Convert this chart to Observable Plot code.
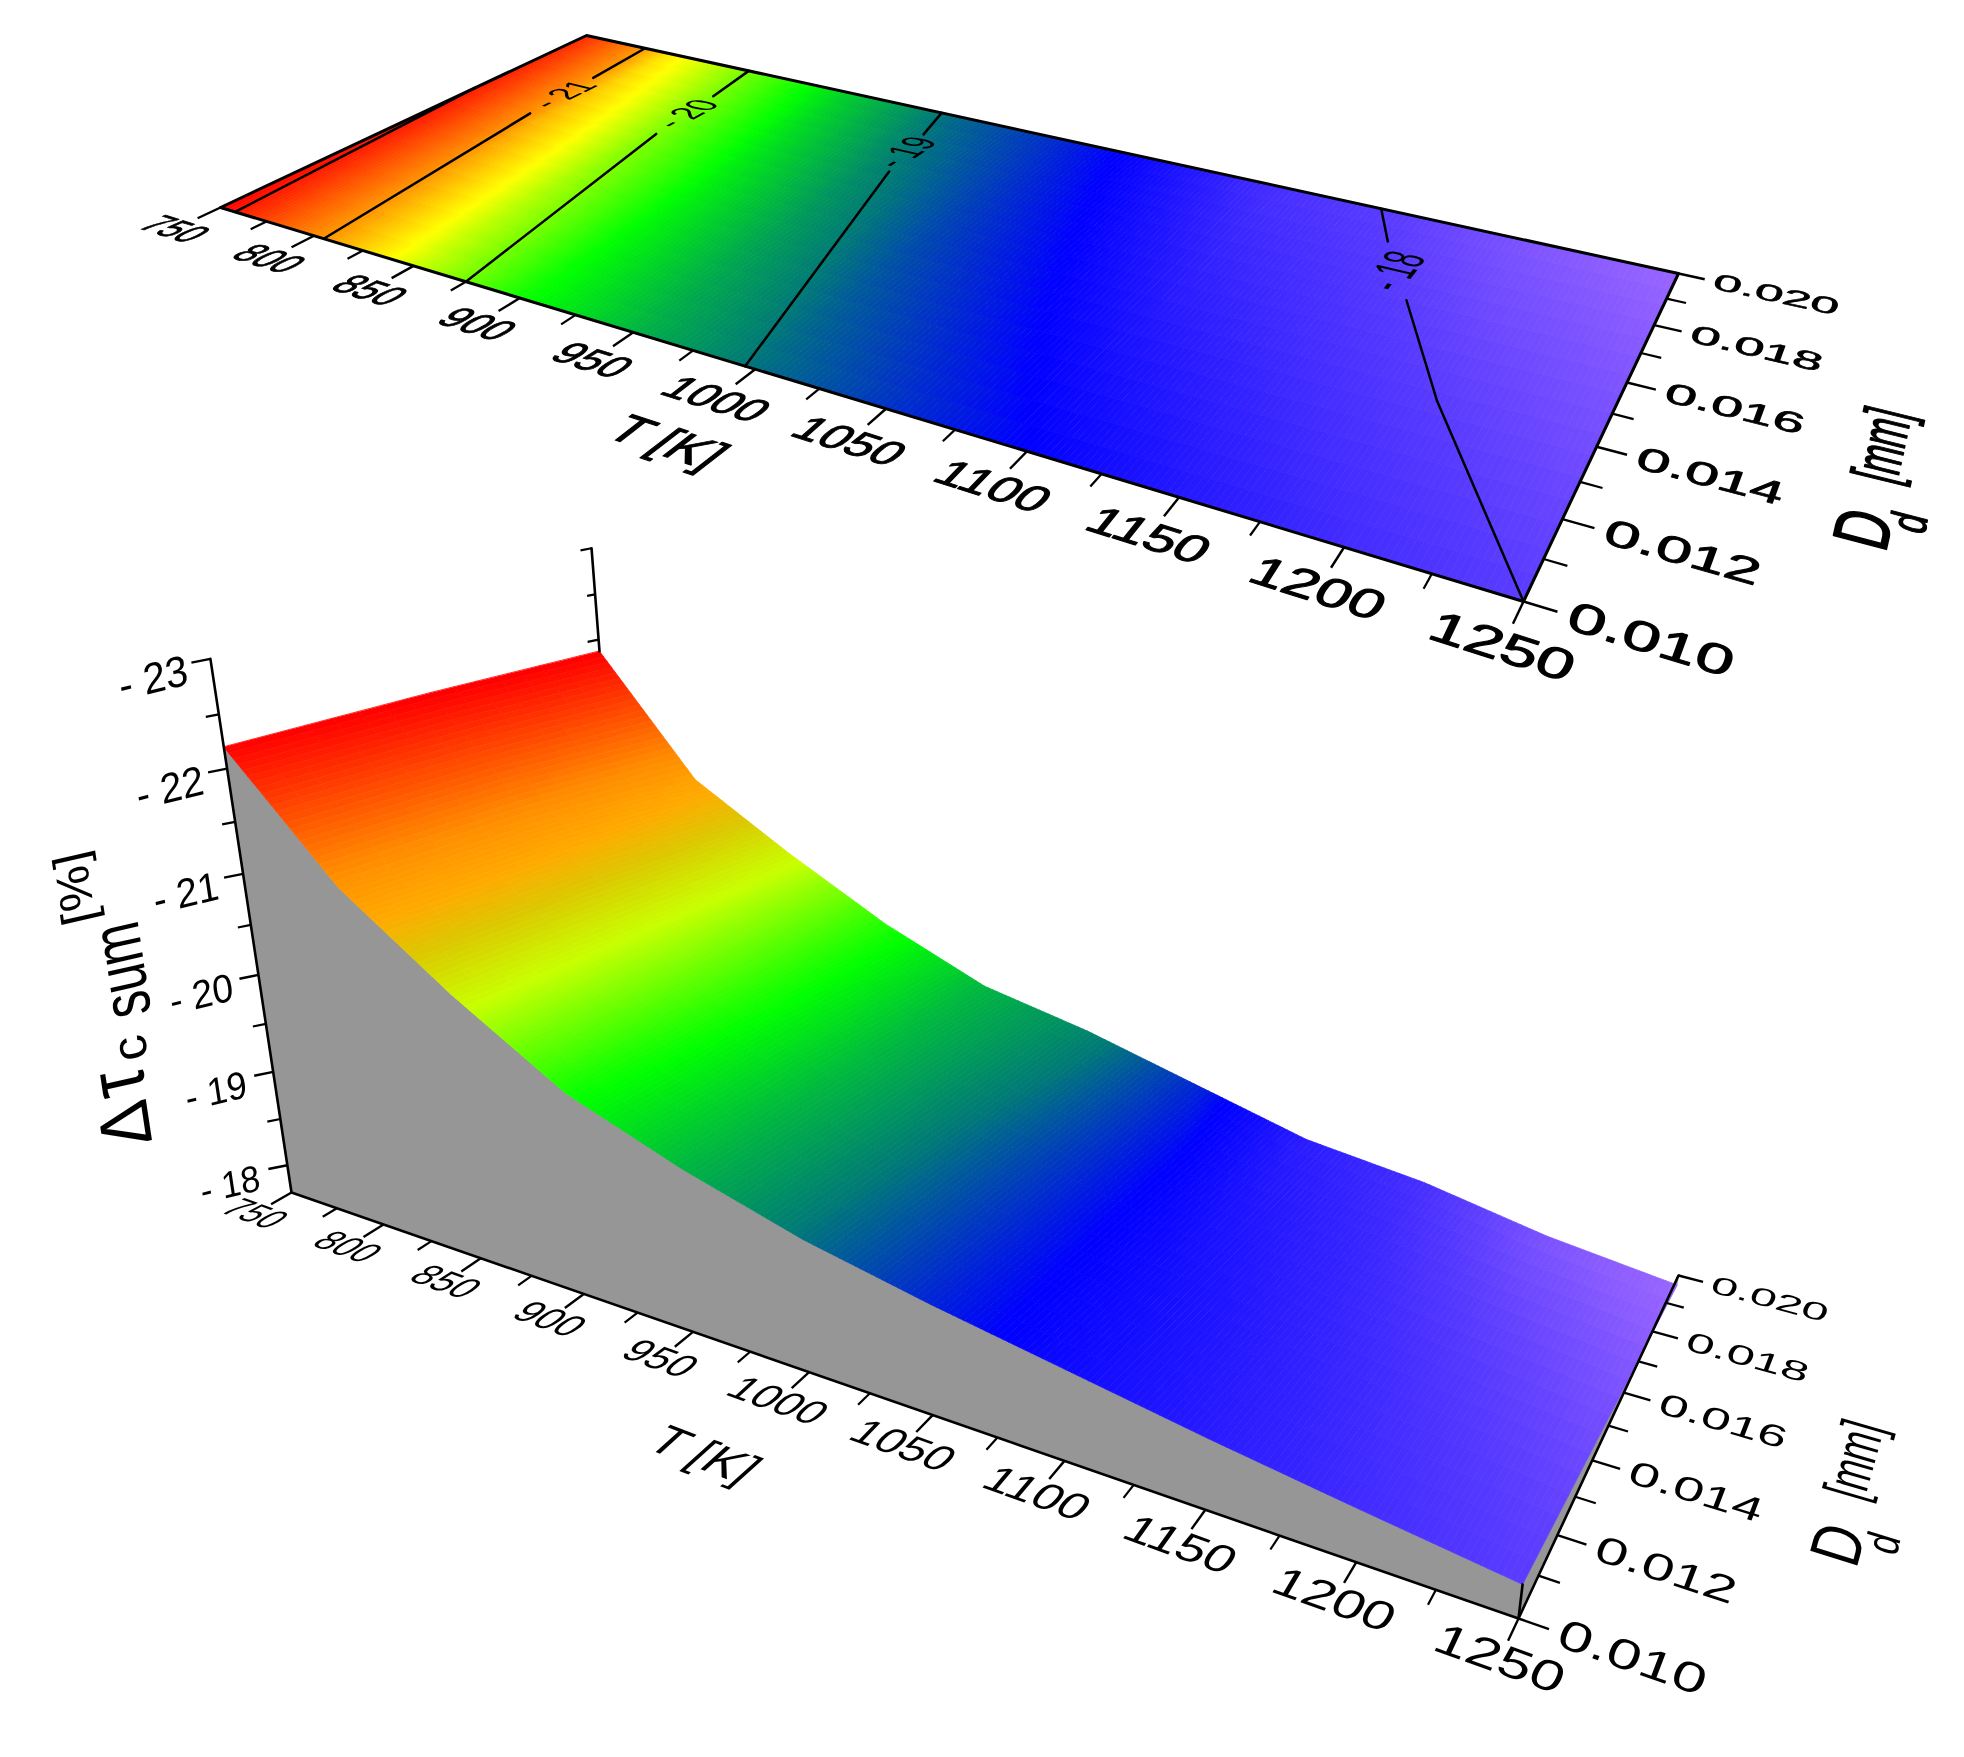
<!DOCTYPE html>
<html>
<head>
<meta charset="utf-8">
<style>
html,body{margin:0;padding:0;background:#fff}
#chart{position:relative;width:1964px;height:1757px;overflow:hidden}
#chart svg{position:absolute;left:0;top:0;background:transparent;max-width:none;filter:blur(0.6px)}
</style>
<script src="https://cdn.jsdelivr.net/npm/d3@7"></script>
<script src="https://cdn.jsdelivr.net/npm/@observablehq/plot@0.6"></script>
</head>
<body>
<div id="chart"></div>
<script>
// ---- values ----
const temperatures = [750, 800, 850, 900, 950, 1000, 1050, 1100, 1150, 1200, 1250];
const diameters = [0.010, 0.015, 0.020];
const tauAtD010 = [-22.2, -21.1, -20.35, -19.7, -19.3, -18.98, -18.75, -18.55, -18.35, -18.17, -18.0];
const tauAtD015 = [-22.05, -20.9, -20.15, -19.6, -19.15, -18.82, -18.58, -18.32, -18.15, -17.97, -17.8];
const tauAtD020 = [-21.87, -20.6, -19.97, -19.4, -18.95, -18.72, -18.42, -18.12, -17.98, -17.75, -17.6];

const tMajor = [750, 800, 850, 900, 950, 1000, 1050, 1100, 1150, 1200, 1250];
const tMinor = [775, 825, 875, 925, 975, 1025, 1075, 1125, 1175, 1225];
const dMajor = [0.010, 0.012, 0.014, 0.016, 0.018, 0.020];
const dMinor = [0.011, 0.013, 0.015, 0.017, 0.019];
const zMajor = [-23, -22, -21, -20, -19, -18];
const zMinor = [-22.5, -21.5, -20.5, -19.5, -18.5];

const contour22 = [[758, 0.010], [750, 0.0165]];
const contour21a = [[805, 0.010], [791, 0.016]];
const contour21b = [[788, 0.0181], [785, 0.020]];
const contour20a = [[875, 0.010], [852, 0.0164]];
const contour20b = [[848, 0.0185], [844, 0.020]];
const contour19a = [[996, 0.010], [957, 0.0171]];
const contour19b = [[950, 0.0189], [945, 0.020]];
const contour18a = [[1250, 0.010], [1200, 0.0141], [1171, 0.0169]];
const contour18b = [[1151, 0.0188], [1140, 0.020]];
const contourLabels = [
  {text: "- 21", T: 789.5, D: 0.0171},
  {text: "- 20", T: 850, D: 0.0175},
  {text: "- 19", T: 953, D: 0.0180},
  {text: "- 18", T: 1161, D: 0.0178}
];

// colour ramps
const topDomain = [-22.2, -21, -20.5, -19.65, -19, -18.55, -18.2, -18, -17.6];
const topRange = ["#ff0000", "#ff9600", "#ffff00", "#00ff00", "#007878", "#0000ff", "#3c28ff", "#5a3cff", "#9966ff"];
const lowDomain = [-22.2, -21.2, -20.85, -20.6, -20.25, -19.65, -19, -18.65, -18.2, -18, -17.6];
const lowRange = ["#ff0000", "#ff8c00", "#ffaa00", "#dcc800", "#c8ff00", "#00ff00", "#007878", "#0000ff", "#3c28ff", "#5a3cff", "#9966ff"];

// ---- views: corners of the base plane on the page ----
function view(P00, P10, P01, P11, extra = {}) {
  const a1 = P11[0] - P10[0], b1 = P11[0] - P01[0], c1 = P10[0] + P01[0] - P00[0] - P11[0];
  const a2 = P11[1] - P10[1], b2 = P11[1] - P01[1], c2 = P10[1] + P01[1] - P00[1] - P11[1];
  const det = a1 * b2 - b1 * a2;
  const g = (c1 * b2 - b1 * c2) / det, h = (a1 * c2 - c1 * a2) / det;
  return {P00, g, h,
    A: [P10[0] * (1 + g) - P00[0], P10[1] * (1 + g) - P00[1]],
    B: [P01[0] * (1 + h) - P00[0], P01[1] * (1 + h) - P00[1]],
    ...extra};
}
const topView = view([220, 207], [1523, 601], [586, 35], [1678, 273]);
const lowView = view([291, 1192], [1518, 1618], [626, 999], [1678, 1275],
  {zBase: -17.7, zTop: -23, vp: [1005, 5890], k: -0.102});

function project(p, T, D, z) {
  const u = (T - 750) / 500, v = (D - 0.01) / 0.01;
  let w = 1 + p.g * u + p.h * v;
  let X = p.P00[0] + p.A[0] * u + p.B[0] * v;
  let Y = p.P00[1] + p.A[1] * u + p.B[1] * v;
  if (z != null) {
    const s = p.k * (z - p.zBase) / (p.zTop - p.zBase);
    X += s * p.vp[0]; Y += s * p.vp[1]; w += s;
  }
  return [X / w, Y / w];
}

function tauAt(T, D) {
  const i = Math.min(temperatures.length - 2, Math.max(0, d3.bisectRight(temperatures, T) - 1));
  const j = D < diameters[1] ? 0 : 1;
  const rows = [tauAtD010, tauAtD015, tauAtD020];
  const fu = (T - temperatures[i]) / (temperatures[i + 1] - temperatures[i]);
  const fv = (D - diameters[j]) / (diameters[j + 1] - diameters[j]);
  const a = rows[j][i] + (rows[j][i + 1] - rows[j][i]) * fu;
  const b = rows[j + 1][i] + (rows[j + 1][i + 1] - rows[j + 1][i]) * fu;
  return a + (b - a) * fv;
}

// the lower surface is lit, so its colour bands lie flatter across D
function litValue(tau, D) {
  const v = (D - 0.01) / 0.01;
  const fade = Math.max(0, Math.min(1, (-17.7 - tau) / 0.7));
  return tau - 0.35 * v * fade;
}

// surface cells: a quad per sub-cell, coloured at its centre
function surfaceCells(p, lifted) {
  const out = [];
  const nT = 24, nD = 16;
  let id = 0;
  for (let i = 0; i < temperatures.length - 1; i++) {
    for (let a = 0; a < nT; a++) {
      const T0 = temperatures[i] + 50 * a / nT, T1 = temperatures[i] + 50 * (a + 1) / nT;
      for (let b = 0; b < nD; b++) {
        const D0 = 0.01 + 0.01 * b / nD, D1 = 0.01 + 0.01 * (b + 1) / nD;
        const mid = tauAt((T0 + T1) / 2, (D0 + D1) / 2);
        const tau = lifted ? litValue(mid, (D0 + D1) / 2) : mid;
        id++;
        for (const [T, D] of [[T0, D0], [T1, D0], [T1, D1], [T0, D1]]) {
          const xy = project(p, T, D, lifted ? tauAt(T, D) : null);
          out.push({id, tau, x: xy[0], y: xy[1]});
        }
      }
    }
  }
  return out;
}

// text lying in the plane of the picture's perspective
const FONT = 20, family = "Liberation Sans, Arial, sans-serif";
function planeMatrix(p, r) {
  const [x, y] = project(p, r.T, r.D);
  const t0 = project(p, r.T - r.emT / 2, r.D), t1 = project(p, r.T + r.emT / 2, r.D);
  const d0 = project(p, r.T, r.D - r.emD / 2), d1 = project(p, r.T, r.D + r.emD / 2);
  const tv = [(t1[0] - t0[0]) / FONT, (t1[1] - t0[1]) / FONT];
  const dv = [(d1[0] - d0[0]) / FONT, (d1[1] - d0[1]) / FONT];
  return r.along === "D"
    ? [dv[0], dv[1], tv[0], tv[1], x, y]
    : [tv[0], tv[1], -dv[0], -dv[1], x, y];
}
function matrixText(rows, matrixOf, extra = {}) {
  return Plot.text(rows, {
    x: r => matrixOf(r)[4], y: r => matrixOf(r)[5], text: "text",
    fontSize: FONT, fontFamily: family, fill: "black", textAnchor: "middle", lineAnchor: "middle",
    ...extra,
    render(index, scales, values, dims, ctx, next) {
      const g = next(index, scales, values, dims, ctx);
      d3.select(g).selectAll("text").each(function (_, i) {
        this.setAttribute("transform", `matrix(${matrixOf(rows[index[i]]).join(" ")})`);
      });
      return g;
    }
  });
}

function axisMarks(p, baseTau, labelD, textStyle) {
  const at = (T, D) => project(p, T, D, baseTau);
  const tTick = (list, len) => list.map(T => ({a: at(T, 0.010), b: at(T, 0.010 - len)}));
  const dTick = (list, len) => list.map(D => ({a: at(1250, D), b: at(1250 + len, D)}));
  const link = (rows, w) => Plot.link(rows, {
    x1: r => r.a[0], y1: r => r.a[1], x2: r => r.b[0], y2: r => r.b[1], stroke: "black", strokeWidth: w});
  const plane = r => planeMatrix(p, r);
  const tLabels = tMajor.map(T => ({text: String(T), T, D: labelD, emT: 16.5, emD: 0.00085}));
  const dLabels = dMajor.map(D => ({text: D.toFixed(3), T: 1283, D, emT: 16.5, emD: 0.00085}));
  return [
    link(tTick(tMajor, 0.0005), 2.4), link(tTick(tMinor, 0.00035), 2.2),
    link(dTick(dMajor, 9), 2.4), link(dTick(dMinor, 6.5), 2.2),
    matrixText(tLabels, plane, textStyle), matrixText(dLabels, plane, textStyle)
  ];
}
function titleMarks(p, tT, tD, dT, dD, subT, subD, mmT, mmD, textStyle) {
  const plane = r => planeMatrix(p, r);
  return [
    matrixText([{text: "T [K]", T: tT, D: tD, emT: 18.6, emD: 0.00095}], plane, textStyle),
    matrixText([{text: "D", T: dT, D: dD, along: "D", emT: 20, emD: 0.00125},
                {text: "d", T: subT, D: subD, along: "D", emT: 13, emD: 0.00085},
                {text: "[mm]", T: mmT, D: mmD, along: "D", emT: 18, emD: 0.00095}], plane, textStyle)
  ];
}

// ---- top panel: the flat map with contours ----
function edge(p, points, w, z) {
  return Plot.line(points.map(([T, D, tau]) => project(p, T, D, z != null ? z : tau)), {
    x: d => d[0], y: d => d[1], stroke: "black", strokeWidth: w, curve: "linear"});
}
const heavy = {stroke: "black", strokeWidth: 0.5};
const cellsTop = surfaceCells(topView, false);
const plotTop = Plot.plot({
  width: 1964, height: 1757, margin: 0,
  x: {type: "identity", axis: null}, y: {type: "identity", axis: null},
  color: {type: "linear", domain: topDomain, range: topRange, interpolate: "rgb", clamp: true},
  style: {background: "transparent"},
  marks: [
    Plot.line(cellsTop, {x: "x", y: "y", z: "id", fill: "tau", stroke: "tau", strokeWidth: 0.8, curve: "linear-closed"}),
    ...[contour22, contour21a, contour21b, contour20a, contour20b, contour19a, contour19b, contour18a, contour18b]
      .map(c => edge(topView, c, 2.5)),
    edge(topView, [[750, 0.01], [1250, 0.01], [1250, 0.02], [750, 0.02], [750, 0.01]], 3),
    matrixText(contourLabels.map(c => ({...c, along: "D", emT: 20, emD: 0.00085})), r => planeMatrix(topView, r)),
    ...axisMarks(topView, null, 0.0090, heavy),
    ...titleMarks(topView, 1002, 0.00773, 1326, 0.0137, 1337, 0.01415, 1326, 0.0160, heavy)
  ]
});

// ---- lower panel: the lifted surface ----
const cellsLow = surfaceCells(lowView, true);
const base = lowView.zBase;
const frontWall = [
  ...temperatures.map((T, i) => project(lowView, T, 0.010, tauAtD010[i])),
  project(lowView, 1250, 0.010, base), project(lowView, 750, 0.010, base)
];
const rightWall = [
  ...diameters.map((D, j) => project(lowView, 1250, D, [tauAtD010, tauAtD015, tauAtD020][j][10])),
  project(lowView, 1250, 0.020, base), project(lowView, 1250, 0.010, base)
];
const zAxisFront = z => project(lowView, 750, 0.010, z);
const zAxisBack = z => project(lowView, 750, 0.020, z);
const zTick = (xy, len) => ({a: xy, b: [xy[0] - len, xy[1] + len * 0.2]});
const zLink = (rows, w) => Plot.link(rows, {
  x1: r => r.a[0], y1: r => r.a[1], x2: r => r.b[0], y2: r => r.b[1], stroke: "black", strokeWidth: w});
const zLabelRows = zMajor.map(z => ({z, text: "- " + Math.abs(z)}));
const zLabelMatrix = r => {
  const [x, y] = zAxisFront(r.z);
  const em = 35 + 6 * (r.z - base) / (lowView.zTop - base);
  const bx = 0.97 * em / FONT, by = -0.24 * em / FONT, ux = -0.15 * em * 1.05 / FONT, uy = -0.99 * em * 1.05 / FONT;
  return [bx, by, -ux, -uy, x - 57, y + 20];
};
const titleParts = [
  {text: "Δ", x: 126, y: 1124, along: 68, up: 72},
  {text: "τ", x: 118, y: 1083, along: 66, up: 82},
  {text: "c", x: 130, y: 1048, along: 50, up: 50},
  {text: "sum", x: 122, y: 970, along: 50, up: 70},
  {text: "[%]", x: 75, y: 888, along: 50, up: 48}
];
const titleMatrix = r => {
  const bx = -0.15, by = -0.99, ux = -0.97, uy = 0.22;
  return [bx * r.along / FONT, by * r.along / FONT, -ux * r.up / FONT, -uy * r.up / FONT, r.x, r.y];
};
const plotLow = Plot.plot({
  width: 1964, height: 1757, margin: 0,
  x: {type: "identity", axis: null}, y: {type: "identity", axis: null},
  color: {type: "linear", domain: lowDomain, range: lowRange, interpolate: "rgb", clamp: true},
  style: {background: "transparent"},
  marks: [
    Plot.line(frontWall, {x: d => d[0], y: d => d[1], fill: "#969696", stroke: "#969696", strokeWidth: 0.6, curve: "linear-closed"}),
    Plot.line(rightWall, {x: d => d[0], y: d => d[1], fill: "#969696", stroke: "#969696", strokeWidth: 0.6, curve: "linear-closed"}),
    Plot.line(cellsLow, {x: "x", y: "y", z: "id", fill: "tau", stroke: "tau", strokeWidth: 0.8, curve: "linear-closed"}),
    edge(lowView, [[750, 0.01], [1250, 0.01], [1250, 0.02]], 2.6, base),
    Plot.line([zAxisFront(base), zAxisFront(lowView.zTop)], {x: d => d[0], y: d => d[1], stroke: "black", strokeWidth: 2.6}),
    Plot.line([zAxisBack(tauAtD020[0]), zAxisBack(lowView.zTop)], {x: d => d[0], y: d => d[1], stroke: "black", strokeWidth: 2.6}),
    Plot.line([project(lowView, 1250, 0.010, base), project(lowView, 1250, 0.010, tauAtD010[10])], {x: d => d[0], y: d => d[1], stroke: "black", strokeWidth: 2.6}),
    zLink(zMajor.map(z => zTick(zAxisFront(z), 19)), 2.4),
    zLink(zMinor.map(z => zTick(zAxisFront(z), 13)), 2.2),
    zLink([-23, -22].map(z => zTick(zAxisBack(z), 11)), 2.2),
    zLink([-22.5].map(z => zTick(zAxisBack(z), 8)), 2.2),
    matrixText(zLabelRows, zLabelMatrix),
    matrixText(titleParts, titleMatrix),
    ...axisMarks(lowView, base, 0.0091, {}),
    ...titleMarks(lowView, 996, 0.0074, 1327, 0.0138, 1339, 0.01415, 1325, 0.0160, {})
  ]
});
document.getElementById("chart").append(plotTop, plotLow);
</script>
</body>
</html>
